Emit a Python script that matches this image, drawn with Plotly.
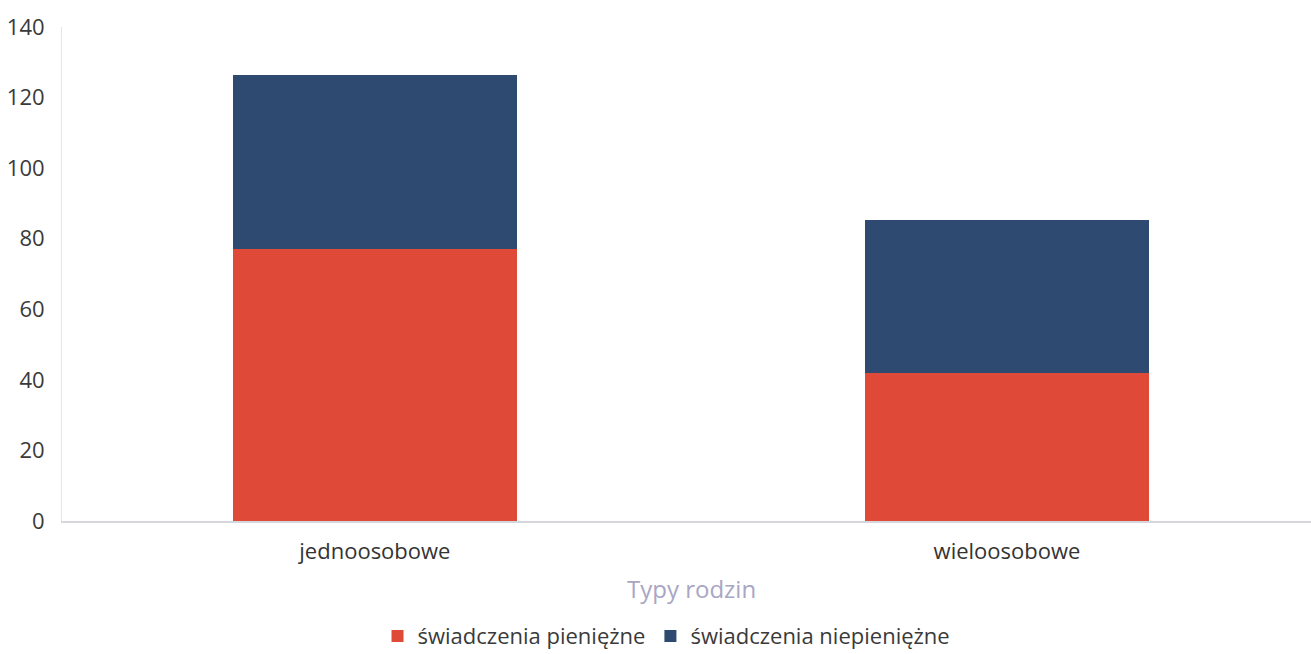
import plotly.graph_objects as go

categories = ["jednoosobowe", "wieloosobowe"]
pieniezne = [77, 42]
niepieniezne = [49.5, 43.3]
series_names = ["świadczenia pieniężne", "świadczenia niepieniężne"]
y_ticks = [0, 20, 40, 60, 80, 100, 120, 140]

fig = go.Figure()
fig.add_trace(go.Bar(x=categories, y=pieniezne, name=series_names[0],
                     marker=dict(color="#de4a37", line=dict(width=0)), width=0.45))
fig.add_trace(go.Bar(x=categories, y=niepieniezne, name=series_names[1],
                     marker=dict(color="#2e4a70", line=dict(width=0)), width=0.45))

fig.update_layout(
    barmode="stack",
    width=1311, height=654,
    margin=dict(l=62, r=0, t=27, b=133, autoexpand=False),
    paper_bgcolor="white", plot_bgcolor="white",
    font=dict(family="Open Sans", size=22, color="#333333"),
    showlegend=True,
    legend=dict(orientation="h", x=0.484, xanchor="center", y=-0.233, yanchor="middle",
                font=dict(size=22, color="#3a3a3a"), traceorder="normal"),
    xaxis=dict(range=[-0.495, 1.481], showgrid=False, showline=True, linecolor="#d6d6de",
               linewidth=2, ticks="outside", ticklen=10, tickcolor="rgba(0,0,0,0)",
               tickfont=dict(size=22, color="#333333"), fixedrange=True, automargin=False),
    yaxis=dict(range=[0, 140], tickvals=y_ticks, showgrid=False, showline=True,
               linecolor="#e4e4ea", linewidth=1, zeroline=False, ticks="outside",
               ticklen=12, tickcolor="rgba(0,0,0,0)", automargin=False,
               tickfont=dict(size=22, color="#3a3a3a")),
    annotations=[dict(text="Typy rodzin", xref="paper", yref="paper", x=0.504, y=-0.136,
                      xanchor="center", yanchor="middle", showarrow=False,
                      font=dict(size=24, color="#a9a6c4"))],
)

fig.write_html("out.html", config={"displayModeBar": False},
               post_script="document.body.style.margin='0';document.body.style.overflow='hidden';")
